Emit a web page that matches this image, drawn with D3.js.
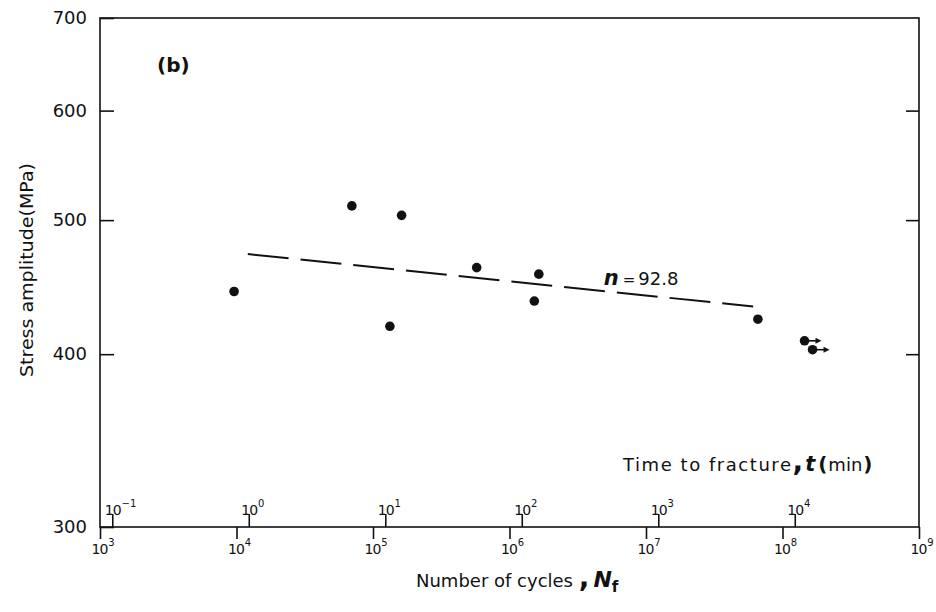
<!DOCTYPE html>
<html>
<head>
<meta charset="utf-8">
<script src="https://cdn.jsdelivr.net/npm/d3@7"></script>
<style>
  body { margin: 0; background: #fff; }
  text { font-family: "DejaVu Sans", sans-serif; fill: #111; }
</style>
</head>
<body>
<div class="canvas"></div>
<script>
// values
const cycles = [9.6e3, 7.0e4, 1.62e5, 1.33e5, 5.75e5, 1.64e6, 1.52e6, 6.6e7, 1.45e8, 1.66e8];
const stress = [444, 512, 504, 419, 462, 457, 437, 424, 409, 403];
const runout = [false, false, false, false, false, false, false, false, true, true];
const fitCycles = [1.21e4, 6.1e7];
const fitStress = [472.5, 433];
const fitLabel = "92.8";
const cycleTicks = [1e3, 1e4, 1e5, 1e6, 1e7, 1e8, 1e9];
const timeTicks = [1e-1, 1e0, 1e1, 1e2, 1e3, 1e4];
const stressTicks = [300, 400, 500, 600, 700];
const cyclesPerMin = 12300;

// margins and dimensions
const w = 936;
const h = 612;
const margin = { top: 18, right: 17, bottom: 85, left: 100 };
const graphWidth = w - margin.left - margin.right;
const graphHeight = h - margin.top - margin.bottom;

const svg = d3.select(".canvas").append("svg").attr("width", w).attr("height", h);
const graph = svg.append("g").attr("transform", `translate(${margin.left}, ${margin.top})`);

const x = d3.scaleLog().domain([1e3, 1e9]).range([0, graphWidth]);
const xt = d3.scaleLog().domain([1e3 / cyclesPerMin, 1e9 / cyclesPerMin]).range([0, graphWidth]);
const y = d3.scaleLog().domain([300, 700]).range([graphHeight, 0]);

const exp = (d) => Math.round(Math.log10(d));
const powLabel = (sel, size, supSize) => {
  sel.append("tspan").style("font-size", size + "px").style("letter-spacing", "-1px").text("10");
  sel.append("tspan").style("font-size", supSize + "px").attr("dx", 1).attr("dy", -8)
    .text((d) => String(exp(d)).replace("-", "\u2212"));
};

// frame
graph.append("rect")
  .attr("width", graphWidth).attr("height", graphHeight)
  .attr("fill", "none").attr("stroke", "#111").attr("stroke-width", 1.6);

// bottom axis: number of cycles
const xAxis = graph.append("g")
  .attr("transform", `translate(0, ${graphHeight})`)
  .call(d3.axisBottom(x).tickValues(cycleTicks).tickSize(12).tickFormat(() => ""));
xAxis.select(".domain").remove();
xAxis.selectAll("line").attr("stroke", "#111").attr("stroke-width", 1.6);
xAxis.selectAll(".tick text").remove();
xAxis.selectAll(".tick").append("text")
  .attr("x", -9).attr("y", 27).attr("text-anchor", "start").attr("fill", "#111")
  .call(powLabel, 14, 10);

// time to fracture ticks, on the same baseline
const tAxis = graph.append("g")
  .attr("transform", `translate(0, ${graphHeight})`)
  .call(d3.axisTop(xt).tickValues(timeTicks).tickSize(13).tickFormat(() => ""));
tAxis.select(".domain").remove();
tAxis.selectAll("line").attr("stroke", "#111").attr("stroke-width", 1.6);
tAxis.selectAll(".tick text").remove();
tAxis.selectAll(".tick").append("text")
  .attr("x", -8).attr("y", -12).attr("text-anchor", "start").attr("fill", "#111")
  .call(powLabel, 14, 10);

// left axis
const yAxis = graph.append("g")
  .call(d3.axisLeft(y).tickValues(stressTicks).tickSize(-14).tickPadding(13).tickFormat(d3.format("d")));
yAxis.select(".domain").remove();
yAxis.selectAll("line").attr("stroke", "#111").attr("stroke-width", 1.6);
yAxis.selectAll("text").style("font-size", "18px").attr("fill", "#111");

// right axis
const yAxisR = graph.append("g")
  .attr("transform", `translate(${graphWidth}, 0)`)
  .call(d3.axisRight(y).tickValues(stressTicks.slice(1, -1)).tickSize(-13).tickFormat(() => ""));
yAxisR.select(".domain").remove();
yAxisR.selectAll("line").attr("stroke", "#111").attr("stroke-width", 1.6);

// fitted line
const fit = fitCycles.map((c, i) => [c, fitStress[i]]);
graph.append("path")
  .attr("d", d3.line().x((d) => x(d[0])).y((d) => y(d[1]))(fit))
  .attr("fill", "none").attr("stroke", "#111").attr("stroke-width", 2)
  .attr("stroke-dasharray", "41,12");

// data points
const pts = cycles.map((c, i) => ({ c, s: stress[i], r: runout[i] }));
graph.selectAll("circle.pt")
  .data(pts).enter().append("circle")
  .attr("class", "pt")
  .attr("cx", (d) => x(d.c)).attr("cy", (d) => y(d.s))
  .attr("r", 4.8).attr("fill", "#111");

// run-out arrows
const arrows = graph.selectAll("g.arrow").data(pts.filter((d) => d.r)).enter().append("g")
  .attr("class", "arrow")
  .attr("transform", (d) => `translate(${x(d.c)}, ${y(d.s)})`);
arrows.append("line").attr("x1", 4).attr("x2", 12).attr("y1", 0).attr("y2", 0)
  .attr("stroke", "#111").attr("stroke-width", 1.6);
arrows.append("path").attr("d", "M11,-3L17,0L11,3Z").attr("fill", "#111");

// fit label
const nLabel = graph.append("text")
  .attr("x", x(fitCycles[0]) + 356).attr("y", y(fitStress[1]) - 22);
nLabel.append("tspan").style("font-size", "21px").style("font-weight", "bold").style("font-style", "italic").text("n");
nLabel.append("tspan").style("font-size", "15px").attr("dx", 4).text("=");
nLabel.append("tspan").style("font-size", "18px").attr("dx", 3).text(fitLabel);

// panel label
svg.append("text")
  .attr("x", 157).attr("y", 72)
  .style("font-size", "20px").style("font-weight", "bold")
  .text("(b)");

// y axis title
svg.append("text")
  .attr("transform", "translate(33, 377) rotate(-90)")
  .attr("textLength", 214).attr("lengthAdjust", "spacingAndGlyphs")
  .style("font-size", "18px")
  .text("Stress amplitude(MPa)");

// x axis title
const xTitle = svg.append("text").attr("x", 416).attr("y", 587).style("font-size", "18px");
xTitle.append("tspan").text("Number of cycles ");
xTitle.append("tspan").style("font-size", "28px").style("font-weight", "bold").text(",");
xTitle.append("tspan").attr("dx", 4).style("font-size", "22px").style("font-weight", "bold").style("font-style", "italic").text("N");
xTitle.append("tspan").attr("dy", 5).style("font-size", "15px").style("font-weight", "bold").text("f");

// time axis title
const tTitle = svg.append("text").attr("x", 623).attr("y", 471).style("font-size", "18px");
tTitle.append("tspan").attr("textLength", 168).attr("lengthAdjust", "spacing").text("Time to fracture");
tTitle.append("tspan").style("font-size", "28px").style("font-weight", "bold").text(",");
tTitle.append("tspan").attr("dx", 2).style("font-size", "21px").style("font-weight", "bold").style("font-style", "italic").text("t");
tTitle.append("tspan").attr("dx", 3).style("font-size", "20px").style("font-weight", "bold").text("(");
tTitle.append("tspan").attr("dx", 1).text("min");
tTitle.append("tspan").attr("dx", 1).style("font-size", "20px").style("font-weight", "bold").text(")");
</script>
</body>
</html>
